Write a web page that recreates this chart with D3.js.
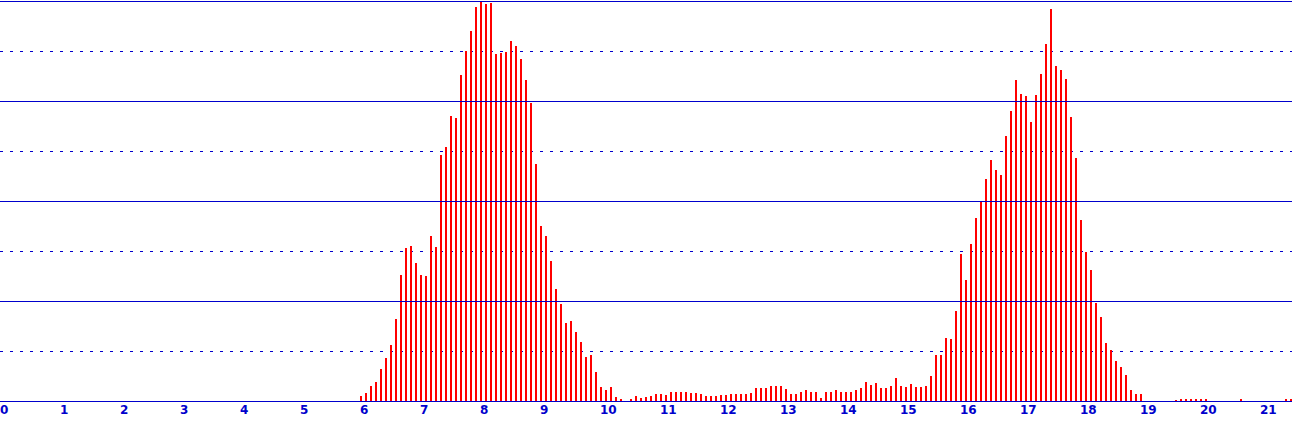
<!DOCTYPE html>
<html>
<head>
<meta charset="utf-8">
<script src="https://cdn.jsdelivr.net/npm/d3@7"></script>
<style>
  html, body { margin: 0; padding: 0; background: #fff; }
  svg { display: block; }
</style>
</head>
<body>
<svg id="chart"></svg>
<script>
// Bars every 5 minutes, starting at 6:00
const startHour = 6;
const stepMinutes = 5;

const counts = [
  5, 8, 15, 19, 32, 43, 56, 82, 126, 153, 155, 138,
  126, 125, 165, 154, 246, 254, 285, 283, 326, 350, 370, 394,
  399, 397, 398, 347, 348, 349, 360, 355, 342, 321, 298, 237,
  175, 165, 140, 112, 97, 78, 80, 69, 59, 44, 46, 29,
  14, 11, 14, 4, 2, 0, 2, 5, 3, 4, 5, 7,
  7, 6, 9, 9, 9, 9, 8, 8, 7, 5, 5, 5,
  6, 6, 7, 7, 7, 7, 8, 13, 13, 13, 15, 15,
  15, 12, 7, 7, 9, 11, 9, 9, 3, 9, 9, 11,
  9, 9, 9, 11, 13, 19, 16, 18, 13, 13, 15, 23,
  15, 14, 17, 14, 14, 15, 25, 46, 46, 63, 62, 90,
  147, 121, 157, 183, 200, 222, 241, 231, 226, 265, 290, 321,
  307, 305, 279, 306, 327, 357, 392, 335, 331, 322, 284, 243,
  181, 149, 131, 98, 84, 58, 51, 40, 34, 26, 11, 7,
  7, 0, 0, 0, 0, 0, 0, 1, 2, 2, 2, 2,
  2, 2, 0, 0, 0, 0, 0, 0, 2, 0, 0, 0,
  0, 0, 0, 0, 0, 2, 2
];

const hourTicks = d3.range(0, 22);
const solidGrid = [100, 200, 300, 400];
const dottedGrid = [50, 150, 250, 350];

const width = 1292;
const height = 421;
const blue = "#0000cc";
const red = "#ff0000";

const svg = d3.select("#chart").attr("width", width).attr("height", height);

const x = d3.scaleLinear().domain([0, width / 60]).range([0, width]);
const y = d3.scaleLinear().domain([0, 400]).range([401, 1]);

const bars = counts.map((v, i) => ({
  hour: startHour + (i * stepMinutes) / 60,
  value: v,
}));

// Dotted grid sits under the bars
svg
  .selectAll(".dotted")
  .data(dottedGrid)
  .enter()
  .append("line")
  .attr("class", "dotted")
  .attr("x1", 0)
  .attr("x2", width)
  .attr("y1", (d) => Math.round(y(d)) + 0.5)
  .attr("y2", (d) => Math.round(y(d)) + 0.5)
  .style("stroke", blue)
  .style("stroke-width", 1)
  .style("stroke-dasharray", "3,7")
  .attr("shape-rendering", "crispEdges");

// Bars
svg
  .selectAll(".bar")
  .data(bars.filter((d) => d.value > 0))
  .enter()
  .append("rect")
  .attr("class", "bar")
  .attr("x", (d) => Math.round(x(d.hour)))
  .attr("y", (d) => Math.round(y(d.value)))
  .attr("width", 2)
  .attr("height", (d) => Math.round(y(0)) - Math.round(y(d.value)))
  .attr("fill", red)
  .attr("shape-rendering", "crispEdges");

// Solid grid and baseline drawn on top
svg
  .selectAll(".solid")
  .data(solidGrid.concat([0]))
  .enter()
  .append("line")
  .attr("class", "solid")
  .attr("x1", 0)
  .attr("x2", width)
  .attr("y1", (d) => Math.round(y(d)) + 0.5)
  .attr("y2", (d) => Math.round(y(d)) + 0.5)
  .style("stroke", blue)
  .style("stroke-width", 1)
  .attr("shape-rendering", "crispEdges");

// Hour labels, left aligned at each hour
svg
  .selectAll(".hour")
  .data(hourTicks)
  .enter()
  .append("text")
  .attr("class", "hour")
  .attr("x", (d) => x(d))
  .attr("y", 414)
  .style("font-family", "DejaVu Sans, sans-serif")
  .style("font-size", "12px")
  .style("font-weight", "bold")
  .style("fill", blue)
  .text((d) => d);
</script>
</body>
</html>
